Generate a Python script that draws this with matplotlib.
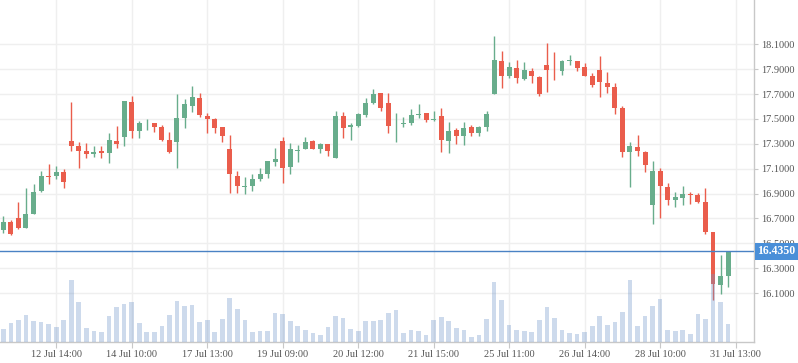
import numpy as np
import matplotlib
matplotlib.use('agg')
import matplotlib.pyplot as plt
import matplotlib.transforms as mtransforms
from matplotlib.patches import Rectangle
from matplotlib.lines import Line2D

# candle data (one entry per bar)
opens = [16.61, 16.67, 16.703, 16.623, 16.735, 16.919, 17.039, 17.039, 17.071, 17.319,
         17.279, 17.239, 17.215, 17.239, 17.223, 17.319, 17.351, 17.639, 17.401, 17.455,
         17.463, 17.431, 17.327, 17.311, 17.511, 17.607, 17.671, 17.527, 17.503, 17.431,
         17.255, 17.039, 16.955, 16.959, 17.015, 17.055, 17.151, 17.319, 17.111, 17.245,
         17.255, 17.319, 17.255, 17.295, 17.183, 17.527, 17.431, 17.439, 17.535, 17.631,
         17.711, 17.631, 17.439, 17.455, 17.463, 17.535, 17.551, 17.495, 17.527, 17.319,
         17.407, 17.359, 17.431, 17.383, 17.431, 17.703, 17.967, 17.847, 17.911, 17.823,
         17.887, 17.839, 17.935, 17.895, 17.887, 17.963, 17.967, 17.919, 17.847, 17.895,
         17.791, 17.759, 17.591, 17.231, 17.271, 17.231, 16.807, 17.079, 16.951, 16.847,
         16.863, 16.895, 16.887, 16.831, 16.591, 16.167, 16.239]
highs = [16.72, 16.687, 16.831, 16.943, 16.975, 17.079, 17.135, 17.119, 17.095, 17.639,
         17.311, 17.303, 17.279, 17.279, 17.383, 17.439, 17.647, 17.687, 17.487, 17.503,
         17.463, 17.447, 17.391, 17.703, 17.663, 17.767, 17.711, 17.551, 17.511, 17.431,
         17.367, 17.079, 17.031, 17.055, 17.103, 17.159, 17.263, 17.351, 17.303, 17.287,
         17.351, 17.327, 17.303, 17.295, 17.567, 17.559, 17.463, 17.551, 17.671, 17.743,
         17.711, 17.711, 17.551, 17.519, 17.583, 17.623, 17.551, 17.567, 17.591, 17.479,
         17.423, 17.471, 17.447, 17.439, 17.567, 18.167, 18.047, 17.959, 17.975, 17.959,
         17.911, 17.847, 18.111, 18.039, 17.975, 18.015, 17.967, 17.951, 17.871, 18.007,
         17.879, 17.791, 17.607, 17.311, 17.367, 17.239, 17.159, 17.103, 16.983, 16.911,
         16.959, 16.911, 16.903, 16.943, 16.591, 16.407, 16.435]
lows = [16.585, 16.569, 16.615, 16.62, 16.735, 16.911, 16.975, 17.015, 16.943, 17.239,
        17.103, 17.183, 17.191, 17.183, 17.143, 17.263, 17.279, 17.343, 17.343, 17.407,
        17.391, 17.319, 17.223, 17.103, 17.423, 17.559, 17.519, 17.383, 17.383, 17.311,
        16.903, 16.903, 16.895, 16.919, 16.999, 17.023, 17.123, 16.983, 17.055, 17.151,
        17.255, 17.255, 17.223, 17.199, 17.183, 17.343, 17.327, 17.431, 17.519, 17.623,
        17.567, 17.383, 17.311, 17.431, 17.447, 17.511, 17.479, 17.487, 17.231, 17.223,
        17.295, 17.287, 17.359, 17.359, 17.399, 17.703, 17.751, 17.831, 17.791, 17.815,
        17.791, 17.687, 17.719, 17.815, 17.855, 17.935, 17.887, 17.847, 17.759, 17.679,
        17.711, 17.543, 17.191, 16.951, 17.199, 17.071, 16.655, 16.703, 16.807, 16.791,
        16.807, 16.815, 16.823, 16.575, 16.047, 16.095, 16.147]
closes = [16.67, 16.577, 16.623, 16.735, 16.911, 17.039, 17.035, 17.071, 16.991, 17.279,
          17.239, 17.215, 17.231, 17.223, 17.327, 17.295, 17.647, 17.401, 17.463, 17.46,
          17.431, 17.327, 17.231, 17.511, 17.623, 17.679, 17.535, 17.503, 17.423, 17.359,
          17.055, 16.959, 16.96, 17.015, 17.055, 17.159, 17.175, 17.103, 17.255, 17.25,
          17.311, 17.255, 17.295, 17.239, 17.527, 17.423, 17.447, 17.543, 17.631, 17.703,
          17.591, 17.439, 17.445, 17.463, 17.535, 17.543, 17.495, 17.503, 17.327, 17.399,
          17.359, 17.423, 17.383, 17.431, 17.543, 17.975, 17.847, 17.919, 17.831, 17.895,
          17.847, 17.703, 17.895, 17.89, 17.967, 17.967, 17.911, 17.847, 17.775, 17.799,
          17.759, 17.591, 17.231, 17.279, 17.239, 17.127, 17.079, 16.959, 16.847, 16.871,
          16.895, 16.89, 16.831, 16.591, 16.175, 16.239, 16.435]
volume = [38, 57, 65, 80, 63, 60, 53, 45, 65, 185,
          119, 41, 32, 29, 77, 104, 114, 119, 56, 29,
          29, 47, 80, 122, 107, 110, 59, 65, 29, 68,
          131, 98, 65, 29, 32, 32, 86, 83, 62, 47,
          35, 26, 20, 44, 77, 71, 38, 32, 62, 62,
          65, 86, 95, 26, 35, 32, 20, 65, 74, 62,
          41, 35, 14, 20, 68, 179, 125, 50, 35, 32,
          29, 65, 104, 71, 35, 26, 23, 29, 47, 77,
          50, 59, 89, 185, 47, 77, 107, 128, 35, 32,
          35, 23, 83, 68, 203, 119, 53]

tick_pos = [7, 17, 27, 37, 47, 57, 67, 77, 87, 97]
tick_labels = ['12 Jul 14:00', '14 Jul 10:00', '17 Jul 13:00', '19 Jul 09:00', '20 Jul 12:00',
               '21 Jul 15:00', '25 Jul 11:00', '26 Jul 14:00', '28 Jul 10:00', '31 Jul 13:00']
price_ticks = [16.1, 16.3, 16.5, 16.7, 16.9, 17.1, 17.3, 17.5, 17.7, 17.9, 18.1]
last_price = 16.435

up_col = '#68ad8c'
down_col = '#ea5d4c'
txt_col = '#555555'
axis_col = '#c8c8c8'

plt.rcParams['font.family'] = ['Liberation Serif', 'DejaVu Serif']

o = np.array(opens)
h = np.array(highs)
l = np.array(lows)
c = np.array(closes)
x = np.arange(len(o))
cols = np.where(c >= o, up_col, down_col)

fig = plt.figure(figsize=(7.98, 3.63), dpi=100)
ax = fig.add_axes([0, 21 / 363, 754 / 798, 342 / 363])

ax.vlines(x, l, h, colors=cols, linewidth=1.0, zorder=2)
body = np.maximum(np.abs(c - o), 0.007)
ax.bar(x, body, bottom=np.minimum(o, c), width=0.66, color=cols, linewidth=0, zorder=3)

# volume on a hidden twin axis, drawn over the candles
ax2 = ax.twinx()
ax2.bar(x, volume, width=0.62, color='#7095c9', alpha=0.35, linewidth=0)
ax2.set_yticks([])
for s in ax2.spines.values():
    s.set_visible(False)

ax.set_xlim(-0.44, 99.43)
ax.set_ylim(15.706, 18.456)
ax.set_xticks(tick_pos)
ax.set_xticklabels(tick_labels)
ax.set_yticks(price_ticks)
ax.set_yticklabels(['%.4f' % p for p in price_ticks])
ax.yaxis.tick_right()
ax.yaxis.set_label_position('right')
ax.grid(True, color='#efefef', linewidth=1.0)
ax.set_axisbelow(True)
ax.tick_params(axis='y', left=False, right=True, labelleft=False, labelright=True,
               length=3, color=axis_col, labelsize=7.5, labelcolor=txt_col, pad=2)
ax.tick_params(axis='x', length=4, color=axis_col, labelsize=7.5, labelcolor=txt_col, pad=2)
for s in ['left', 'top']:
    ax.spines[s].set_visible(False)
for s in ['right', 'bottom']:
    ax.spines[s].set_color(axis_col)
    ax.spines[s].set_linewidth(1.0)

blend = mtransforms.blended_transform_factory(ax.transAxes, ax.transData)
ax2.add_line(Line2D([0, 1], [last_price, last_price], transform=blend, color='#4a82c4', linewidth=1.0))
ax2.set_ylim(0, 1026)
ax.add_patch(Rectangle((1.0015, last_price - 0.068), 0.057, 0.137, transform=blend,
                       facecolor='#4a8fd8', edgecolor='none', clip_on=False, zorder=10))
ax.text(1.0298, last_price, '%.4f' % last_price, transform=blend, ha='center', va='center',
        color='white', fontsize=8.5, fontweight='bold', zorder=11)

plt.savefig('out.png', dpi=100)
plt.close()
